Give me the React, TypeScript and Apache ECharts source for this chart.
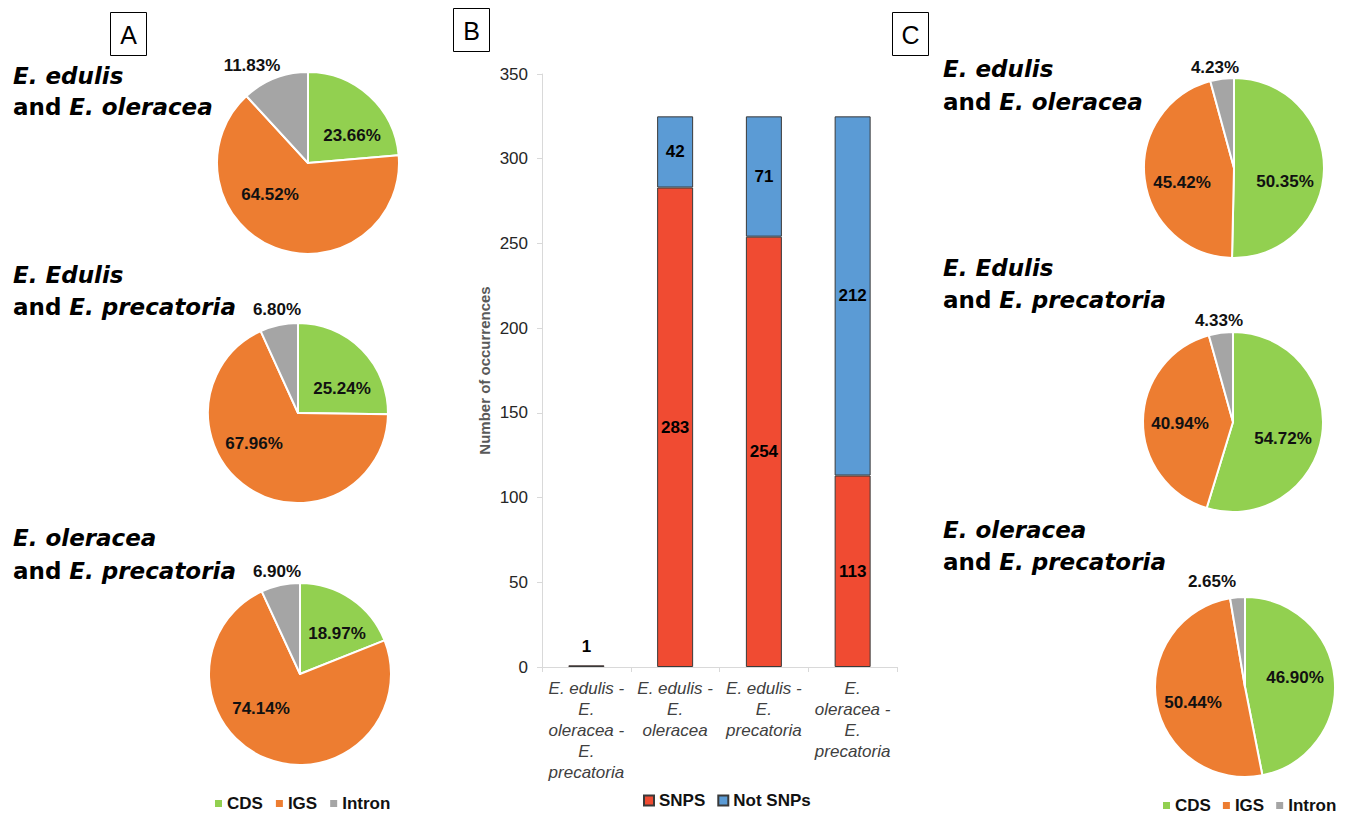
import React, { useEffect, useRef } from "react";
import * as echarts from "echarts";

// ---------- data ----------
const CATEGORIES = [
  "E. edulis -\nE.\noleracea -\nE.\nprecatoria",
  "E. edulis -\nE.\noleracea",
  "E. edulis -\nE.\nprecatoria",
  "E.\noleracea -\nE.\nprecatoria",
];
const SNPS = [1, 283, 254, 113];
const NOT_SNPS = [0, 42, 71, 212];
const BAR_SERIES_NAMES = ["SNPS", "Not SNPs"];
const Y_TICKS = { min: 0, max: 350, interval: 50 };

const SEGMENTS = ["CDS", "IGS", "Intron"];
// Panel A
const PIE_A1 = [23.66, 64.52, 11.83];
const PIE_A2 = [25.24, 67.96, 6.8];
const PIE_A3 = [18.97, 74.14, 6.9];
// Panel C
const PIE_C1 = [50.35, 45.42, 4.23];
const PIE_C2 = [54.72, 40.94, 4.33];
const PIE_C3 = [46.9, 50.44, 2.65];

const TITLES_A = [
  ["E. edulis", "E. oleracea"],
  ["E. Edulis", "E. precatoria"],
  ["E. oleracea", "E. precatoria"],
];
const TITLES_C = [
  ["E. edulis", "E. oleracea"],
  ["E. Edulis", "E. precatoria"],
  ["E. oleracea", "E. precatoria"],
];

// ---------- styles / layout ----------
const SEG_COLORS = ["#92D050", "#ED7D31", "#A5A5A5"];
const BAR_COLORS = ["#F04B32", "#5B9BD5"];
const FONT = "Liberation Sans, Arial, sans-serif";
const TITLE_FONT = "DejaVu Sans, Verdana, sans-serif";

const PIE_LAYOUT = [
  { values: PIE_A1, center: [308, 163], r: 91, labels: [[352, 135], [270, 194], [252, 65]] },
  { values: PIE_A2, center: [298, 413], r: 90, labels: [[342, 388], [254, 443], [277, 309]] },
  { values: PIE_A3, center: [300, 674], r: 91, labels: [[337, 633], [261, 708], [277, 571]] },
  { values: PIE_C1, center: [1234, 168], r: 90, labels: [[1285, 181], [1182, 182], [1215, 67]] },
  { values: PIE_C2, center: [1233, 422], r: 90, labels: [[1283, 438], [1180, 423], [1219, 320]] },
  { values: PIE_C3, center: [1245, 687], r: 90, labels: [[1295, 677], [1193, 702], [1212, 581]] },
];

const TITLE_POS_A = [[13, 76, 107], [13, 275, 307], [13, 538, 571]];
const TITLE_POS_C = [[943, 69, 102], [943, 268, 300], [943, 530, 562]];

function titleElements(titles: string[][], pos: number[][]) {
  const rich = {
    i: { fontStyle: "italic", fontWeight: "bold", fontSize: 23, fontFamily: TITLE_FONT, fill: "#000" },
    n: { fontStyle: "normal", fontWeight: "bold", fontSize: 23, fontFamily: TITLE_FONT, fill: "#000" },
  };
  const els: any[] = [];
  titles.forEach((t, k) => {
    const [x, y1, y2] = pos[k];
    els.push({
      type: "text",
      x,
      y: y1,
      silent: true,
      style: { text: `{i|${t[0]}}`, rich, align: "left", verticalAlign: "middle" },
    });
    els.push({
      type: "text",
      x,
      y: y2,
      silent: true,
      style: { text: `{n|and }{i|${t[1]}}`, rich, align: "left", verticalAlign: "middle" },
    });
  });
  return els;
}

function boxLabel(letter: string, x: number, y: number, w: number, h: number) {
  return [
    {
      type: "rect",
      silent: true,
      shape: { x: x + 0.5, y: y + 0.5, width: w, height: h },
      style: { fill: "#fff", stroke: "#000", lineWidth: 1 },
    },
    {
      type: "text",
      silent: true,
      x: x + w / 2 + 0.5,
      y: y + h / 2 + 1,
      style: {
        text: letter,
        align: "center",
        verticalAlign: "middle",
        fontSize: 25,
        fontFamily: FONT,
        fill: "#000",
      },
    },
  ];
}

export default function App() {
  const ref = useRef<HTMLDivElement>(null);

  useEffect(() => {
    if (!ref.current) return;
    const chart = echarts.init(ref.current, undefined, { renderer: "svg" });

    const pieSeries = PIE_LAYOUT.map((p) => ({
      type: "pie",
      center: p.center,
      radius: p.r,
      startAngle: 90,
      clockwise: true,
      silent: true,
      avoidLabelOverlap: false,
      itemStyle: { borderColor: "#fff", borderWidth: 2 },
      label: {
        show: true,
        position: "inside",
        formatter: (prm: any) => Number(prm.value).toFixed(2) + "%",
        fontSize: 17,
        fontWeight: "bold",
        fontFamily: FONT,
        color: "#111",
      },
      labelLine: { show: false },
      labelLayout: (prm: any) => {
        const xy = p.labels[prm.dataIndex];
        return { x: xy[0], y: xy[1], align: "center", verticalAlign: "middle" };
      },
      emphasis: { disabled: true },
      data: SEGMENTS.map((name, i) => ({
        name,
        value: p.values[i],
        itemStyle: { color: SEG_COLORS[i] },
      })),
    }));

    const barLabel = {
      show: true,
      position: "inside",
      fontSize: 17,
      fontWeight: "bold",
      fontFamily: FONT,
      color: "#000",
      formatter: (prm: any) => (prm.value > 0 ? String(prm.value) : ""),
    };

    const option: any = {
      animation: false,
      textStyle: { fontFamily: FONT },
      grid: { left: 542, top: 74, width: 355, height: 593, containLabel: false },
      xAxis: {
        type: "category",
        data: CATEGORIES,
        axisLine: { show: true, lineStyle: { color: "#d9d9d9", width: 1 } },
        axisTick: { show: true, length: 5, lineStyle: { color: "#d9d9d9" } },
        axisLabel: {
          interval: 0,
          fontSize: 17,
          fontStyle: "italic",
          fontFamily: FONT,
          color: "#404040",
          lineHeight: 21,
          margin: 11,
        },
      },
      yAxis: {
        type: "value",
        min: Y_TICKS.min,
        max: Y_TICKS.max,
        interval: Y_TICKS.interval,
        splitLine: { show: false },
        axisLine: { show: true, lineStyle: { color: "#d9d9d9", width: 1 } },
        axisTick: { show: true, length: 5, lineStyle: { color: "#d9d9d9" } },
        axisLabel: { fontSize: 17, color: "#262626", margin: 14, fontFamily: FONT },
        name: "Number of occurrences",
        nameLocation: "middle",
        nameGap: 50,
        nameTextStyle: { fontSize: 15, fontWeight: "bold", color: "#595959", fontFamily: FONT },
      },
      legend: [
        {
          data: SEGMENTS,
          left: 215,
          top: 795,
          padding: 0,
          icon: "rect",
          itemWidth: 7,
          itemHeight: 7,
          itemGap: 13,
          selectedMode: false,
          itemStyle: { borderWidth: 0 },
          textStyle: { fontSize: 17, fontWeight: "bold", color: "#111", fontFamily: FONT },
        },
        {
          data: BAR_SERIES_NAMES,
          left: 643,
          top: 792,
          padding: 0,
          icon: "rect",
          itemWidth: 10,
          itemHeight: 10,
          itemGap: 12,
          selectedMode: false,
          textStyle: { fontSize: 17, fontWeight: "bold", color: "#111", fontFamily: FONT },
        },
        {
          data: SEGMENTS,
          left: 1163,
          top: 797,
          padding: 0,
          icon: "rect",
          itemWidth: 7,
          itemHeight: 7,
          itemGap: 12,
          selectedMode: false,
          itemStyle: { borderWidth: 0 },
          textStyle: { fontSize: 17, fontWeight: "bold", color: "#111", fontFamily: FONT },
        },
      ],
      series: [
        {
          type: "bar",
          name: BAR_SERIES_NAMES[0],
          stack: "total",
          barWidth: 36,
          silent: true,
          itemStyle: { color: BAR_COLORS[0], borderColor: "#3a3a3a", borderWidth: 1 },
          label: barLabel,
          data: SNPS.map((v) =>
            v < 10 ? { value: v, label: { position: "top", distance: 10 } } : v
          ),
        },
        {
          type: "bar",
          name: BAR_SERIES_NAMES[1],
          stack: "total",
          barWidth: 36,
          silent: true,
          itemStyle: { color: BAR_COLORS[1], borderColor: "#3a3a3a", borderWidth: 1 },
          label: barLabel,
          data: NOT_SNPS.map((v) =>
            v === 0 ? { value: v, label: { show: false }, itemStyle: { borderWidth: 0 } } : v
          ),
        },
        ...pieSeries,
      ],
      graphic: [
        ...boxLabel("A", 110, 12, 36, 43),
        ...boxLabel("B", 453, 8, 36, 43),
        ...boxLabel("C", 892, 12, 36, 43),
        ...titleElements(TITLES_A, TITLE_POS_A),
        ...titleElements(TITLES_C, TITLE_POS_C),
      ],
    };

    chart.setOption(option);
    return () => chart.dispose();
  }, []);

  return (
    <div
      ref={ref}
      style={{ position: "absolute", left: 0, top: 0, width: 1348, height: 814, background: "#fff" }}
    />
  );
}
